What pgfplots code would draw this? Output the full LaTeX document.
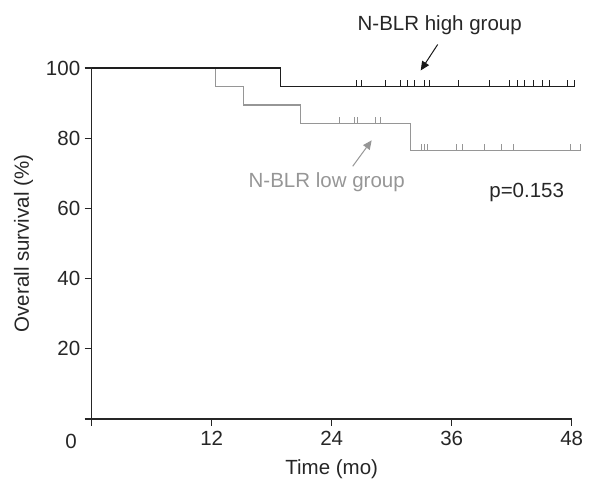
\documentclass[border=0pt]{standalone}
\usepackage{fontspec}
\setmainfont{Liberation Sans}
\usepackage{pgfplots}
\pgfplotsset{compat=1.18}
\usetikzlibrary{arrows.meta}

\definecolor{hiline}{RGB}{30,30,30}
\definecolor{loline}{RGB}{150,150,150}

\begin{document}
\begin{tikzpicture}[font=\fontsize{20.5}{24}\selectfont]
\begin{axis}[
    scale only axis,
    width=480pt, height=351pt,
    xmin=0, xmax=48, ymin=0, ymax=100,
    axis x line=bottom, axis y line=left,
    axis line style={-, line width=1.2pt, black!85},
    tick style={line width=1.2pt, black!85},
    tick align=outside,
    major tick length=7pt,
    xtick={0,12,24,36,48}, xticklabels={,12,24,36,48},
    ytick={0,20,40,60,80,100}, yticklabels={,20,40,60,80,100},
    xticklabel style={yshift=-2pt},
    yticklabel style={xshift=-1pt},
    xlabel={Time (mo)}, ylabel={Overall survival (\%)},
    xlabel style={yshift=-7pt},
    ylabel style={yshift=6pt},
    text=black!85,
    clip=false,
]
% step curves (low first so the high curve lies on top)
\addplot[const plot, loline, line width=1.4pt] coordinates {
  (0,100) (12.4,94.74) (15.2,89.47) (20.9,84.21) (31.9,76.55) (48.9,76.55)};
\addplot[const plot, hiline, line width=1.4pt] coordinates {
  (0,100) (18.9,94.74) (48.3,94.74)};
% censor marks
\addplot[only marks, mark=|, mark size=3pt, loline, line width=1pt,
  mark options={yshift=3pt}] coordinates {
  (24.8,84.21) (26.3,84.21) (26.6,84.21) (28.4,84.21) (28.9,84.21)
  (33.0,76.55) (33.3,76.55) (33.6,76.55) (36.5,76.55) (37.1,76.55)
  (39.3,76.55) (41.0,76.55) (42.2,76.55) (47.9,76.55) (48.9,76.55)};
\addplot[only marks, mark=|, mark size=3pt, hiline, line width=1pt,
  mark options={yshift=3pt}] coordinates {
  (26.5,94.74) (27.0,94.74) (29.4,94.74) (30.9,94.74) (31.6,94.74)
  (32.3,94.74) (33.3,94.74) (33.8,94.74) (36.7,94.74) (39.8,94.74)
  (41.8,94.74) (42.6,94.74) (43.3,94.74) (44.2,94.74) (45.1,94.74)
  (45.8,94.74) (47.6,94.74) (48.3,94.74)};
% annotations
\node[text=black!85] at (axis cs:34.8,112.2) {N-BLR high group};
\draw[black!90, line width=1pt, -{Triangle[length=9pt,width=8pt]}]
  (axis cs:34.6,106.7) -- (axis cs:32.9,99.3);
\node[text=loline] at (axis cs:23.5,67.5) {N-BLR low group};
\draw[loline, line width=1pt, -{Triangle[length=9pt,width=8pt]}]
  (axis cs:26.1,72.0) -- (axis cs:28.0,79.4);
\node[text=black!85] at (axis cs:43.5,64.6) {p=0.153};
\node[text=black!85] at (axis cs:-2.07,-6.3) {0};
\coordinate (O) at (axis cs:0,0);
\end{axis}
\path (O) ++(-91.7pt,-67pt) rectangle ++(614pt,486pt);
\end{tikzpicture}
\end{document}
